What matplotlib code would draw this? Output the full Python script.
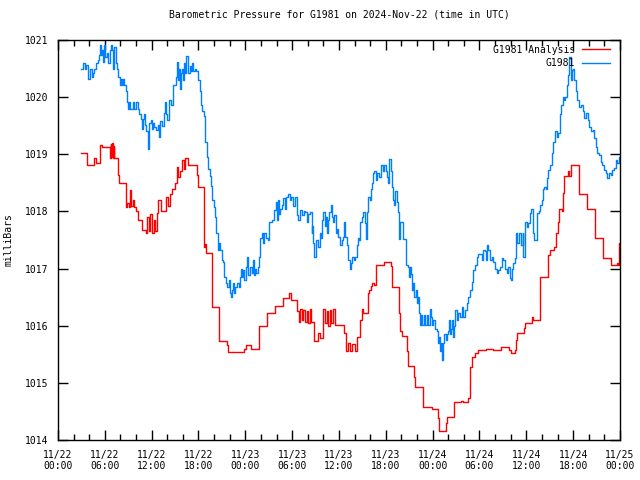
import numpy as np
import pandas as pd
import matplotlib
matplotlib.use('Agg')
import matplotlib.pyplot as plt
import matplotlib.dates as mdates

plt.rcParams['font.family'] = 'DejaVu Sans Mono'

START = pd.Timestamp('2024-11-22 00:00')

# G1981 Analysis (hours since 11/22 00:00 UTC, mbar)
red_hours = [2.95, 3.75, 4.65, 4.91, 5.42, 5.68, 6.62, 6.75, 6.85, 6.95, 7.05, 7.12,
             7.21, 7.72, 7.85, 8.75, 8.90, 9.05, 9.22, 9.35, 9.55, 9.75, 9.95, 10.25,
             10.72, 11.27, 11.45, 11.65, 11.85, 12.05, 12.25, 12.45, 12.65, 12.85, 13.2,
             13.7, 13.9, 14.1, 14.3, 14.57, 15.0, 15.2, 15.4, 15.6, 15.9, 16.1, 16.3,
             16.69, 17.77, 17.97, 18.74, 18.83, 19.0, 19.69, 20.66, 21.69, 21.82, 23.79,
             24.08, 24.69, 25.71, 26.74, 27.76, 28.86, 29.59, 29.81, 30.66, 30.85, 31.05,
             31.25, 31.45, 31.65, 31.85, 32.05, 32.25, 32.45, 32.8, 33.35, 33.6, 33.99,
             34.2, 34.4, 34.6, 34.8, 35.0, 35.2, 35.49, 36.68, 36.89, 37.1, 37.4, 37.7,
             38.0, 38.3, 38.69, 38.9, 39.1, 39.67, 39.9, 40.1, 40.26, 40.48, 40.7, 41.8,
             42.66, 42.75, 43.72, 43.81, 44.03, 44.75, 44.87, 45.64, 45.77, 46.72, 46.8,
             47.87, 48.64, 48.81, 49.71, 49.87, 50.77, 51.63, 51.92, 52.56, 52.78, 53.0,
             53.42, 53.84, 54.83, 55.77, 56.79, 57.82, 58.0, 58.58, 58.67, 58.84, 59.74,
             59.86, 60.68, 60.81, 61.75, 62.77, 63.03, 63.54, 63.84, 64.05, 64.22, 64.53,
             64.73, 64.86, 65.34, 65.5, 65.72, 66.78, 67.81, 68.83, 69.86, 70.84, 71.57,
             71.7, 71.83, 72.0]
red_mbar = [1019.03, 1018.81, 1018.93, 1018.84, 1019.16, 1019.12, 1018.93, 1019.18, 1018.95,
            1019.20, 1018.93, 1019.14, 1018.93, 1018.63, 1018.49, 1018.07, 1018.15, 1018.08,
            1018.37, 1018.10, 1018.20, 1018.07, 1018.00, 1017.85, 1017.67, 1017.62, 1017.90,
            1017.65, 1017.95, 1017.62, 1017.85, 1017.65, 1017.97, 1018.20, 1018.00, 1018.00,
            1018.25, 1018.10, 1018.30, 1018.40, 1018.49, 1018.78, 1018.60, 1018.70, 1018.90,
            1018.75, 1018.93, 1018.81, 1018.64, 1018.43, 1017.38, 1017.43, 1017.27, 1016.32,
            1015.74, 1015.67, 1015.54, 1015.60, 1015.67, 1015.60, 1016.00, 1016.23, 1016.35,
            1016.48, 1016.58, 1016.45, 1016.26, 1016.07, 1016.30, 1016.10, 1016.28, 1016.07,
            1016.25, 1016.05, 1016.30, 1016.07, 1015.74, 1015.88, 1015.78, 1016.30, 1016.05,
            1016.25, 1016.00, 1016.28, 1016.05, 1016.30, 1016.02, 1015.88, 1015.55, 1015.70,
            1015.55, 1015.68, 1015.55, 1015.81, 1016.10, 1016.29, 1016.22, 1016.58, 1016.62,
            1016.70, 1016.75, 1016.72, 1017.06, 1017.12, 1017.05, 1016.67, 1016.23, 1015.90,
            1015.82, 1015.56, 1015.29, 1015.11, 1014.92, 1014.75, 1014.57, 1014.55, 1014.38,
            1014.15, 1014.29, 1014.40, 1014.66, 1014.69, 1014.66, 1014.73, 1015.28, 1015.45,
            1015.53, 1015.57, 1015.59, 1015.57, 1015.62, 1015.57, 1015.53, 1015.57, 1015.75,
            1015.87, 1015.96, 1016.04, 1016.16, 1016.10, 1016.86, 1017.24, 1017.33, 1017.38,
            1017.62, 1017.82, 1018.05, 1018.00, 1018.32, 1018.62, 1018.70, 1018.62, 1018.81,
            1018.30, 1018.05, 1017.54, 1017.18, 1017.07, 1017.10, 1017.07, 1017.44, 1017.44]

# G1981 station reports
blue_hours = [2.95, 3.20, 3.46, 3.60, 3.80, 4.10, 4.36, 4.50, 4.65, 4.87, 5.12, 5.25, 5.38,
              5.50, 5.64, 5.77, 5.89, 6.05, 6.24, 6.41, 6.60, 6.79, 6.98, 7.10, 7.21, 7.37,
              7.52, 7.72, 7.94, 8.08, 8.20, 8.35, 8.46, 8.67, 8.80, 9.03, 9.15, 9.22, 9.44,
              9.60, 9.74, 9.99, 10.20, 10.38, 10.57, 10.70, 10.85, 11.06, 11.20, 11.27, 11.49,
              11.57, 11.70, 11.91, 12.00, 12.11, 12.34, 12.55, 12.75, 12.94, 13.13, 13.32,
              13.52, 13.71, 13.85, 14.00, 14.22, 14.48, 14.69, 14.99, 15.10, 15.21, 15.35,
              15.44, 15.63, 15.80, 15.92, 16.05, 16.18, 16.30, 16.40, 16.62, 16.85, 17.04,
              17.20, 17.35, 17.49, 17.74, 17.97, 18.19, 18.32, 18.49, 18.74, 18.83, 19.05,
              19.18, 19.41, 19.60, 19.77, 19.98, 20.11,
              20.24, 20.46, 20.60, 20.80, 20.97, 21.18, 21.30, 21.52, 21.71, 21.85, 22.03,
              22.15, 22.25, 22.46, 22.60, 22.67, 22.93, 23.19, 23.32, 23.44, 23.60, 23.70,
              23.85, 24.05, 24.25, 24.38, 24.60, 24.81, 25.02, 25.15, 25.24, 25.43, 25.58,
              25.75, 25.88, 26.13, 26.30, 26.39, 26.61, 26.86, 27.03, 27.38, 27.71, 27.89,
              28.06, 28.15, 28.25, 28.44, 28.66, 28.86, 29.08, 29.27, 29.50, 29.72, 29.91,
              30.11, 30.36, 30.58, 30.78, 31.00, 31.26, 31.51, 31.64, 31.86, 32.09, 32.28,
              32.50, 32.60, 32.71, 32.83, 33.05, 33.31, 33.56, 33.69, 33.86, 33.99, 34.20,
              34.35, 34.46, 34.60, 34.76, 34.97, 35.10, 35.19, 35.40, 35.58, 35.75, 35.91,
              36.13, 36.38, 36.55, 36.68, 36.77, 36.98, 37.19, 37.41, 37.55, 37.66, 37.86,
              38.05, 38.27, 38.47, 38.60,
              38.73, 38.91, 39.11, 39.33, 39.46, 39.62, 39.75, 39.97, 40.10, 40.26, 40.39,
              40.52, 40.70, 40.93, 41.12, 41.38, 41.63, 41.80, 41.98, 42.19, 42.31, 42.44,
              42.62, 42.75, 42.95, 43.05, 43.17, 43.39, 43.59, 43.72, 43.80, 43.94, 44.23,
              44.45, 44.58, 44.80, 44.96, 45.10, 45.22, 45.39, 45.50, 45.64, 45.82, 46.03,
              46.15, 46.25, 46.37, 46.50, 46.63, 46.89, 47.05, 47.23, 47.44, 47.66, 47.80,
              47.87, 48.08, 48.30, 48.51, 48.64, 48.80, 48.94, 49.05, 49.15, 49.23, 49.36,
              49.49, 49.67, 49.80, 49.92, 50.09, 50.20, 50.35, 50.51, 50.60, 50.69, 50.86,
              51.08, 51.28, 51.50, 51.72, 51.92, 52.14, 52.36, 52.56, 52.78, 53.00, 53.20,
              53.42, 53.64, 53.84, 54.06, 54.28, 54.48, 54.70,
              54.83, 54.95, 55.13, 55.34, 55.56, 55.77, 55.98, 56.20, 56.41, 56.62, 56.84,
              57.05, 57.26, 57.48, 57.71, 57.90, 57.99, 58.12, 58.33, 58.55, 58.67, 58.84,
              59.10, 59.27, 59.53, 59.61, 59.83, 60.04, 60.25, 60.47, 60.59, 60.81, 61.02,
              61.24, 61.40, 61.58, 61.75, 61.97, 62.09, 62.26, 62.52, 62.68, 62.81, 63.03,
              63.25, 63.37, 63.54, 63.67, 63.89, 64.09, 64.31, 64.44, 64.66, 64.82, 64.95,
              65.17, 65.29, 65.42, 65.50, 65.68, 65.85, 66.01, 66.14, 66.36, 66.53, 66.74,
              66.96, 67.22, 67.38, 67.64, 67.86, 68.06, 68.28, 68.50, 68.67, 68.88, 69.09,
              69.34, 69.52, 69.73, 69.95, 70.16, 70.37, 70.59, 70.80, 71.01, 71.23, 71.48,
              71.65, 71.83, 72.00]
blue_mbar = [1020.50, 1020.59, 1020.50, 1020.56, 1020.31, 1020.50, 1020.36, 1020.42, 1020.50,
             1020.59, 1020.65, 1020.74, 1020.91, 1020.74, 1020.82, 1020.62, 1020.91, 1020.71,
             1020.77, 1020.59, 1020.82, 1020.91, 1020.82, 1020.50, 1020.88, 1020.59, 1020.50,
             1020.36, 1020.21, 1020.31, 1020.21, 1020.31, 1020.21, 1020.11, 1019.92, 1019.80,
             1019.92, 1019.80, 1019.80, 1019.92, 1019.80, 1019.92, 1019.80, 1019.70, 1019.61,
             1019.45, 1019.61, 1019.70, 1019.51, 1019.40, 1019.28, 1019.10, 1019.55, 1019.60,
             1019.45, 1019.55, 1019.48, 1019.42, 1019.51, 1019.31, 1019.58, 1019.50, 1019.72,
             1019.92, 1019.70, 1019.60, 1019.95, 1019.86, 1020.21, 1020.21, 1020.36, 1020.62,
             1020.30, 1020.50, 1020.15, 1020.42, 1020.50, 1020.30, 1020.59, 1020.42, 1020.72,
             1020.42, 1020.55, 1020.45, 1020.59, 1020.45, 1020.50, 1020.45, 1020.30, 1020.10,
             1019.86, 1019.76, 1019.67, 1019.22, 1018.96, 1018.75, 1018.62, 1018.45, 1018.20,
             1018.08, 1017.91,
             1017.62, 1017.33, 1017.45, 1017.33, 1017.15, 1017.12, 1016.86, 1016.74, 1016.68,
             1016.80, 1016.57, 1016.51, 1016.62, 1016.74, 1016.57, 1016.68, 1016.74, 1016.68,
             1016.86, 1017.00, 1016.86, 1016.97, 1016.80, 1017.03, 1017.20, 1016.89, 1017.03,
             1016.92, 1017.15, 1016.89, 1017.00, 1016.92, 1017.03, 1017.21, 1017.53, 1017.62,
             1017.45, 1017.62, 1017.53, 1017.50, 1017.82, 1017.85, 1018.02, 1018.17, 1017.85,
             1018.20, 1017.95, 1018.05, 1018.11, 1018.23, 1018.05, 1018.26, 1018.30, 1018.20,
             1018.26, 1018.10, 1018.26, 1017.94, 1017.85, 1018.02, 1017.94, 1018.00, 1017.99,
             1017.82, 1017.95, 1017.99, 1017.62, 1017.75, 1017.45, 1017.20, 1017.50, 1017.38,
             1017.62, 1017.53, 1017.85, 1017.99, 1017.75, 1017.90, 1017.62, 1017.85, 1017.99,
             1018.11, 1017.90, 1017.82, 1017.94, 1017.62, 1017.70, 1017.56, 1017.41, 1017.50,
             1017.56, 1017.82, 1017.56, 1017.41, 1017.15, 1017.00, 1017.09, 1017.20, 1017.15,
             1017.21, 1017.41, 1017.53, 1017.50,
             1017.82, 1017.90, 1017.99, 1017.80, 1017.51, 1017.99, 1018.26, 1018.20, 1018.40,
             1018.49, 1018.67, 1018.70, 1018.55, 1018.67, 1018.61, 1018.81, 1018.70, 1018.81,
             1018.70, 1018.61, 1018.49, 1018.91, 1018.70, 1018.43, 1018.20, 1018.11, 1018.35,
             1018.17, 1017.99, 1017.51, 1017.82, 1017.82, 1017.51, 1017.51, 1017.06, 1017.03,
             1016.86, 1017.03, 1016.90, 1016.62, 1016.75, 1016.51, 1016.62, 1016.39, 1016.51,
             1016.22, 1016.01, 1016.19, 1016.01, 1016.19, 1016.01, 1016.19, 1016.01, 1016.30,
             1016.15, 1016.01, 1016.10, 1015.95, 1015.90, 1015.69, 1015.81, 1015.55, 1015.69,
             1015.52, 1015.40, 1015.69, 1015.85, 1015.75, 1015.85, 1015.90, 1016.10, 1015.85,
             1015.95, 1016.10, 1015.81, 1016.00, 1016.27, 1016.10, 1016.22, 1016.15, 1016.33,
             1016.15, 1016.27, 1016.39, 1016.51, 1016.62, 1016.77, 1016.97, 1017.06, 1017.21,
             1017.25, 1017.25, 1017.15, 1017.33, 1017.30,
             1017.15, 1017.41, 1017.32, 1017.15, 1017.21, 1017.12, 1017.00, 1016.92, 1016.97,
             1017.03, 1017.18, 1017.15, 1017.00, 1016.92, 1017.03, 1016.83, 1016.80, 1017.00,
             1017.10, 1017.18, 1017.62, 1017.44, 1017.62, 1017.41, 1017.62, 1017.21, 1017.82,
             1017.73, 1017.79, 1017.97, 1018.05, 1017.62, 1017.50, 1017.50, 1017.97, 1018.00,
             1018.11, 1018.20, 1018.40, 1018.43, 1018.40, 1018.58, 1018.72, 1018.81, 1019.02,
             1019.22, 1019.22, 1019.40, 1019.30, 1019.37, 1019.70, 1019.86, 1020.01, 1019.95,
             1020.01, 1020.21, 1020.39, 1020.50, 1020.71, 1020.30, 1020.47, 1020.50, 1020.30,
             1020.10, 1019.95, 1019.83, 1019.86, 1019.75, 1019.63, 1019.72, 1019.60, 1019.48,
             1019.40, 1019.42, 1019.28, 1019.13, 1019.02, 1018.99, 1018.87, 1018.82, 1018.72,
             1018.68, 1018.58, 1018.68, 1018.64, 1018.72, 1018.76, 1018.90, 1018.85, 1018.95,
             1018.84]


def to_time(hours):
    return START + pd.to_timedelta(np.array(hours), unit='h')


fig = plt.figure(figsize=(6.4, 4.8), dpi=100)
ax = fig.add_axes([58/640, 40/480, 562/640, 400/480])

ax.plot(to_time(red_hours), red_mbar, drawstyle='steps-post', color='#ff0000',
        lw=1, label='G1981 Analysis')
ax.plot(to_time(blue_hours), blue_mbar, drawstyle='steps-post', color='#0080ff',
        lw=1, label='G1981')

ax.set_xlim(START, START + pd.Timedelta(hours=72))
ax.set_ylim(1014, 1021)
ax.set_yticks(range(1014, 1022))

ax.xaxis.set_major_locator(mdates.HourLocator(byhour=range(0, 24, 6)))
ax.xaxis.set_minor_locator(mdates.HourLocator(byhour=range(0, 24, 2)))
ax.xaxis.set_major_formatter(mdates.DateFormatter('%m/%d\n%H:%M'))

ax.tick_params(which='both', direction='in', top=True, right=True,
               labelsize=7, width=1, color='black')
ax.tick_params(which='major', length=7, pad=7)
ax.tick_params(which='minor', length=4)
for sp in ax.spines.values():
    sp.set_linewidth(1)

ax.set_ylabel('milliBars', fontsize=7, labelpad=8)
ax.set_title('Barometric Pressure for G1981 on 2024-Nov-22 (time in UTC)',
             fontsize=7, pad=16)

ax.legend(loc='upper right', bbox_to_anchor=(1.0, 1.0 + 5/400), frameon=False,
          markerfirst=False, fontsize=7, handlelength=2.9, handletextpad=0.7,
          borderaxespad=0.6, labelspacing=0.35)

fig.savefig('out.png', dpi=100)
